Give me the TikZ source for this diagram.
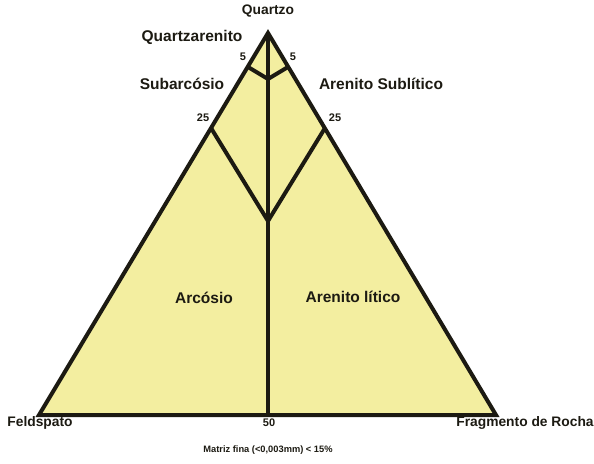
\documentclass[tikz,border=0pt]{standalone}
\usepackage{fontspec}
\setmainfont{Liberation Sans}
\definecolor{arenia}{RGB}{243,238,160}
\definecolor{tinta}{RGB}{28,26,18}
\tikzset{
  lado/.style={draw=tinta,line width=4pt},
  rotulo/.style={text=tinta,font=\bfseries\fontsize{15.5}{17}\selectfont,inner sep=0pt},
  vertice/.style={text=tinta,font=\bfseries\fontsize{13.8}{15}\selectfont,inner sep=0pt},
  cota/.style={text=tinta,font=\bfseries\fontsize{11}{12}\selectfont,inner sep=0pt}
}
\begin{document}
\begin{tikzpicture}[x=1pt,y=-1pt]
\useasboundingbox (0,0) rectangle (594,463);
% vertices e pontos do diagrama
\coordinate (q) at (268,33);
\coordinate (f) at (39,415);
\coordinate (r) at (496,415);
\coordinate (m) at (268,415);
\coordinate (f5) at (248,67);
\coordinate (r5) at (288,67);
\coordinate (c5) at (268,79);
\coordinate (f25) at (211,128);
\coordinate (r25) at (325,128);
\coordinate (c25) at (268,221);
\filldraw[lado,fill=arenia,line join=miter] (q) -- (f) -- (r) -- cycle;
\draw[lado] (q) -- (m);
\draw[lado] (f5) -- (c5) -- (r5);
\draw[lado] (f25) -- (c25) -- (r25);
% nomes
\node[vertice] (nq) at (268,11) {Quartzo};
\node[vertice] (nf) at (40,423) {Feldspato};
\node[vertice] (nr) at (525,423) {Fragmento de Rocha};
\node[cota] (n50) at (269,423) {50};
\node[rotulo] (qa) at (192,37) {Quartzarenito};
\node[rotulo] (sa) at (182,84) {Subarcósio};
\node[rotulo] (as) at (381,84) {Arenito Sublítico};
\node[rotulo] (ar) at (204,298) {Arcósio};
\node[rotulo] (al) at (353,297) {Arenito lítico};
\node[cota] (e5) at (243,57) {5};
\node[cota] (d5) at (293,57) {5};
\node[cota] (e25) at (203,118) {25};
\node[cota] (d25) at (335,118) {25};
\node[text=tinta,font=\bfseries\fontsize{9.3}{11}\selectfont,inner sep=0pt] (mt) at (268,450) {Matriz fina (<0,003mm) < 15\%};
\end{tikzpicture}
\end{document}
